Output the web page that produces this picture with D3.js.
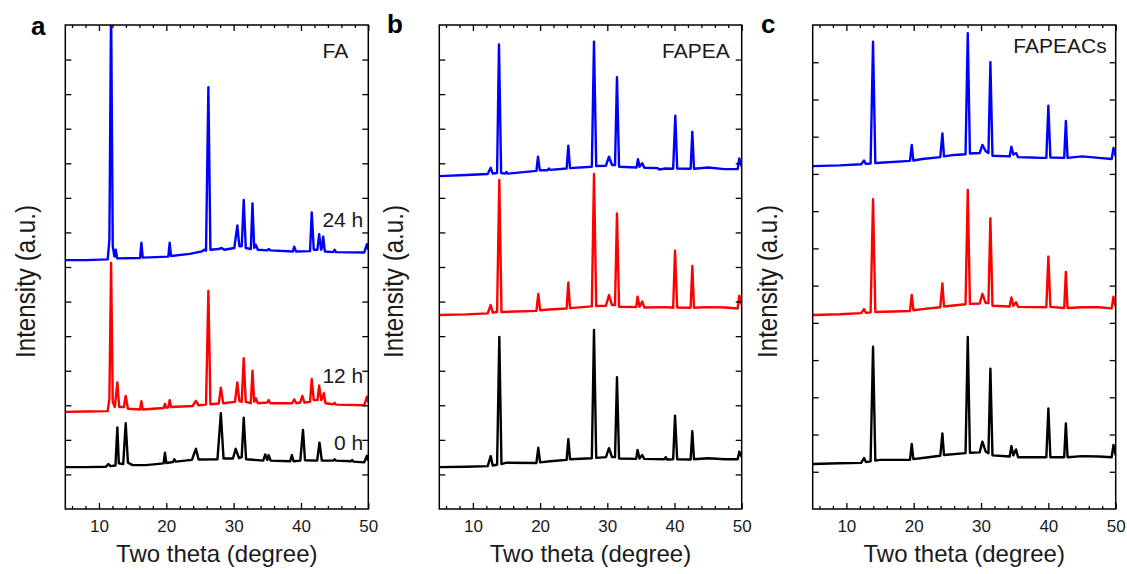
<!DOCTYPE html>
<html>
<head>
<meta charset="utf-8">
<script src="https://cdn.jsdelivr.net/npm/d3@7"></script>
<style>
  body { margin: 0; background: #fff; }
  svg { display: block; font-family: "Liberation Sans", Arial, sans-serif; }
</style>
</head>
<body>
<svg id="chart" width="1127" height="574"></svg>
<script>
// --- data (two theta in degrees, intensity in a.u.) ---
const majorTicks = [10, 20, 30, 40, 50];
const minorTicks = [6, 8, 12, 14, 16, 18, 22, 24, 26, 28, 32, 34, 36, 38, 42, 44, 46, 48];
const yTicksAB = [1, 2, 3, 4, 5, 6, 7, 8, 9, 10, 11, 12, 13];
const yTicksC = [1, 2, 3, 4, 5, 6, 7, 8, 9, 10, 11, 12];
const panelLetters = ["a", "b", "c"];
const panelNames = ["FA", "FAPEA", "FAPEACs"];
const timeLabels = ["0 h", "12 h", "24 h"];
const seriesColors = ["#000000", "#ff0000", "#0000ff"];

// panel a: FA
const fa0h = [[5,1.21],[8,1.21],[11,1.22],[11.4,1.3],[11.7,1.24],[12.45,1.26],[12.73,2.36],[12.95,1.32],[13.6,1.3],[13.97,2.48],[14.3,1.34],[15,1.27],[17,1.27],[19.6,1.32],[19.8,1.63],[20.0,1.33],[21,1.36],[21.2,1.44],[21.4,1.37],[23.8,1.42],[24.4,1.74],[24.8,1.43],[27.6,1.44],[28.1,2.77],[28.5,1.46],[29.9,1.46],[30.3,1.74],[30.8,1.47],[31.2,1.5],[31.5,2.64],[31.85,1.44],[34.4,1.4],[34.7,1.58],[35.0,1.42],[35.2,1.56],[35.5,1.4],[38.4,1.38],[38.65,1.56],[38.9,1.38],[39.9,1.4],[40.3,2.29],[40.6,1.41],[42.4,1.4],[42.75,1.92],[43.1,1.4],[44.8,1.4],[45,1.44],[45.2,1.4],[47.4,1.38],[47.6,1.42],[47.8,1.37],[49.4,1.35],[49.8,1.54],[50,1.4]];
const fa12h = [[5,2.81],[8,2.82],[11.3,2.83],[11.55,3.2],[11.8,7.12],[12.05,3.1],[12.35,2.95],[12.73,3.66],[13.0,2.95],[13.7,2.95],[13.97,3.27],[14.3,2.9],[16.1,2.88],[16.3,3.12],[16.5,2.88],[19.6,2.92],[19.8,3.04],[20.0,2.93],[20.3,2.94],[20.5,3.15],[20.7,2.95],[23.9,2.98],[24.4,3.13],[24.8,3.0],[25.9,3.02],[26.25,6.31],[26.55,3.03],[27.8,3.05],[28.1,3.51],[28.45,3.06],[30.2,3.1],[30.55,3.66],[30.85,3.12],[31.2,3.1],[31.5,4.36],[31.8,3.1],[32.55,3.06],[32.8,4.0],[33.05,3.1],[33.3,3.2],[33.6,3.06],[35.0,3.08],[35.2,3.15],[35.45,3.06],[38.7,3.06],[39,3.17],[39.3,3.06],[39.9,3.08],[40.2,3.27],[40.5,3.08],[41.35,3.1],[41.6,3.76],[41.9,3.15],[42.45,3.15],[42.7,3.57],[43.0,3.15],[43.15,3.2],[43.4,3.35],[43.65,3.06],[44.8,3.03],[45,3.07],[45.2,3.02],[49.4,3.0],[49.8,3.25],[50,3.1]];
const fa24h = [[5,7.2],[8,7.2],[11.3,7.22],[11.55,7.8],[11.8,14.6],[12.05,7.6],[12.3,7.3],[12.5,7.5],[12.7,7.25],[16.1,7.26],[16.3,7.7],[16.5,7.27],[20.3,7.3],[20.5,7.7],[20.7,7.32],[23.5,7.38],[25.3,7.45],[25.6,7.5],[25.9,7.47],[26.25,12.2],[26.55,7.5],[27.8,7.52],[28.2,7.55],[28.6,7.5],[30.1,7.55],[30.55,8.2],[30.85,7.6],[31.2,7.6],[31.5,8.94],[31.8,7.55],[32.55,7.52],[32.8,8.84],[33.05,7.55],[33.3,7.64],[33.6,7.5],[35.0,7.48],[35.2,7.52],[35.5,7.48],[38.8,7.45],[39,7.59],[39.25,7.45],[41.35,7.46],[41.6,8.58],[41.9,7.5],[42.45,7.5],[42.7,7.95],[43.0,7.5],[43.1,7.55],[43.3,7.88],[43.55,7.45],[44.8,7.43],[45,7.5],[45.2,7.43],[49.4,7.42],[49.8,7.66],[50,7.5]];

// panel b: FAPEA
const fapea0h = [[5,1.21],[9,1.22],[12.2,1.24],[12.65,1.53],[12.95,1.26],[13.6,1.28],[13.93,4.98],[14.25,1.3],[15,1.34],[19.45,1.33],[19.73,1.77],[20.0,1.35],[21.5,1.38],[23.95,1.42],[24.2,2.02],[24.45,1.44],[27.7,1.47],[28.02,5.18],[28.35,1.48],[29.8,1.5],[30.25,1.76],[30.7,1.5],[31.15,1.5],[31.44,3.81],[31.75,1.46],[34.3,1.45],[34.5,1.71],[34.8,1.46],[35.2,1.56],[35.5,1.45],[38.5,1.44],[38.7,1.5],[38.9,1.43],[39.8,1.44],[40.08,2.7],[40.4,1.44],[42.4,1.43],[42.65,2.25],[42.9,1.44],[45,1.47],[47.5,1.44],[49.4,1.44],[49.64,1.66],[50,1.5]];
const fapea12h = [[5,5.61],[9,5.63],[12.2,5.66],[12.65,5.9],[12.95,5.68],[13.6,5.7],[13.93,9.52],[14.25,5.7],[19.45,5.73],[19.73,6.22],[20.0,5.75],[21.3,5.77],[23.95,5.8],[24.2,6.55],[24.45,5.81],[27.7,5.86],[28.02,9.69],[28.35,5.87],[29.8,5.88],[30.25,6.19],[30.7,5.9],[31.15,5.9],[31.44,8.55],[31.75,5.85],[34.3,5.84],[34.5,6.14],[34.8,5.85],[35.2,6.0],[35.5,5.83],[38.7,5.84],[39.8,5.82],[40.08,7.47],[40.4,5.83],[42.4,5.82],[42.65,7.03],[42.9,5.82],[45,5.84],[47.5,5.83],[49.4,5.8],[49.64,6.17],[50,5.9]];
const fapea24h = [[5,9.63],[9,9.66],[12.2,9.69],[12.65,9.87],[12.95,9.7],[13.6,9.72],[13.88,13.44],[14.2,9.72],[14.8,9.7],[15,9.75],[15.2,9.7],[19.45,9.78],[19.69,10.19],[19.95,9.8],[21.1,9.8],[21.3,9.85],[21.5,9.81],[23.95,9.85],[24.2,10.51],[24.45,9.86],[27.7,9.9],[28.02,13.52],[28.35,9.92],[29.8,9.93],[30.25,10.19],[30.7,9.95],[31.15,9.95],[31.44,12.49],[31.75,9.9],[34.35,9.88],[34.57,10.12],[34.8,9.9],[35.2,10.0],[35.5,9.87],[37.5,9.86],[37.7,9.82],[38.7,9.85],[39.8,9.84],[40.12,11.38],[40.4,9.85],[42.4,9.84],[42.65,10.91],[42.9,9.84],[45.03,9.88],[47.4,9.83],[49.4,9.83],[49.64,10.14],[50,9.9]];

// panel c: FAPEACs
const fapeacs0h = [[5,1.21],[9,1.23],[12.2,1.24],[12.62,1.37],[12.9,1.26],[13.6,1.28],[13.96,4.36],[14.3,1.30],[15,1.32],[19.45,1.32],[19.71,1.75],[19.95,1.34],[21.3,1.37],[23.95,1.43],[24.26,2.03],[24.5,1.45],[27.7,1.50],[28.03,4.62],[28.35,1.51],[29.8,1.52],[30.2,1.81],[30.7,1.54],[31.1,1.50],[31.39,3.77],[31.7,1.44],[34.25,1.41],[34.51,1.69],[34.8,1.44],[35.2,1.60],[35.5,1.39],[39.7,1.39],[40.0,2.70],[40.3,1.39],[42.35,1.39],[42.6,2.30],[42.85,1.39],[45,1.42],[47.5,1.41],[49.4,1.39],[49.67,1.72],[50,1.44]];
const fapeacs12h = [[5,5.21],[9,5.23],[12.2,5.26],[12.62,5.37],[12.9,5.27],[13.6,5.28],[13.96,8.32],[14.3,5.29],[19.45,5.32],[19.71,5.75],[19.95,5.34],[21.3,5.37],[23.95,5.42],[24.26,6.06],[24.5,5.44],[27.7,5.50],[28.03,8.57],[28.35,5.51],[29.8,5.52],[30.2,5.78],[30.7,5.53],[31.1,5.53],[31.39,7.81],[31.7,5.46],[34.25,5.44],[34.51,5.68],[34.8,5.46],[35.2,5.55],[35.5,5.43],[39.7,5.42],[40.0,6.78],[40.3,5.43],[42.35,5.40],[42.6,6.37],[42.85,5.40],[45,5.42],[47.5,5.42],[49.4,5.39],[49.67,5.70],[50,5.43]];
const fapeacs24h = [[5,9.21],[9,9.23],[12.2,9.26],[12.62,9.36],[12.9,9.27],[13.6,9.28],[13.96,12.55],[14.3,9.29],[15,9.30],[19.45,9.35],[19.71,9.78],[19.95,9.36],[21.3,9.40],[23.95,9.45],[24.26,10.09],[24.5,9.47],[26,9.51],[27.7,9.53],[28.03,12.78],[28.35,9.55],[29.8,9.56],[30.2,9.78],[30.7,9.61],[31.1,9.56],[31.39,12.0],[31.7,9.49],[34.25,9.47],[34.51,9.73],[34.8,9.52],[35.2,9.56],[35.5,9.45],[37.5,9.44],[38.8,9.43],[39.7,9.43],[40.0,10.83],[40.3,9.44],[42.35,9.43],[42.6,10.42],[42.85,9.43],[45,9.47],[47.5,9.43],[49.4,9.40],[49.67,9.70],[50,9.47]];

// --- layout ---
const plotTop = 25, plotBottom = 509;
const panels = [
  { left: 65.3, right: 368.3, yMax: 14, yTicks: yTicksAB, series: [fa0h, fa12h, fa24h], titleX: 30.5, nameX: 20, nameY: 58 },
  { left: 439.3, right: 741.7, yMax: 14, yTicks: yTicksAB, series: [fapea0h, fapea12h, fapea24h], titleX: 36, nameX: 12, nameY: 58 },
  { left: 812.7, right: 1115.7, yMax: 13, yTicks: yTicksC, series: [fapeacs0h, fapeacs12h, fapeacs24h], titleX: 36, nameX: 9, nameY: 53 }
];
const letterPos = [[31, 35], [387, 33], [761, 33]];
const timeLabelY = [450, 382.7, 226.7];

const svg = d3.select("#chart");
const defs = svg.append("defs");

panels.forEach((p, i) => {
  const x = d3.scaleLinear().domain([5, 50]).range([p.left, p.right]);
  const y = d3.scaleLinear().domain([0, p.yMax]).range([plotBottom, plotTop]);
  const g = svg.append("g");

  defs.append("clipPath").attr("id", "clip" + i)
    .append("rect")
    .attr("x", p.left).attr("y", plotTop)
    .attr("width", p.right - p.left).attr("height", plotBottom - plotTop);

  // curves
  const line = d3.line().x(d => x(d[0])).y(d => y(d[1]));
  g.append("g").attr("clip-path", `url(#clip${i})`)
    .selectAll("path")
    .data(p.series)
    .join("path")
    .attr("d", line)
    .attr("fill", "none")
    .attr("stroke", (d, k) => seriesColors[k])
    .attr("stroke-width", 2.4)
    .attr("stroke-linejoin", "round");

  // axes, ticks pointing inwards
  const bottomAxis = g.append("g").attr("transform", `translate(0,${plotBottom})`)
    .call(d3.axisBottom(x).tickValues(majorTicks).tickSize(-6).tickSizeOuter(0).tickPadding(10.5));
  g.append("g").attr("transform", `translate(0,${plotBottom})`)
    .call(d3.axisBottom(x).tickValues(minorTicks).tickSize(-3).tickSizeOuter(0).tickFormat(""));
  g.append("g").attr("transform", `translate(0,${plotTop})`)
    .call(d3.axisTop(x).tickValues(majorTicks).tickSize(-6).tickSizeOuter(0).tickFormat(""));
  g.append("g").attr("transform", `translate(0,${plotTop})`)
    .call(d3.axisTop(x).tickValues(minorTicks).tickSize(-3).tickSizeOuter(0).tickFormat(""));
  g.append("g").attr("transform", `translate(${p.left},0)`)
    .call(d3.axisLeft(y).tickValues(p.yTicks).tickSize(-6).tickSizeOuter(0).tickFormat(""));
  g.append("g").attr("transform", `translate(${p.right},0)`)
    .call(d3.axisRight(y).tickValues(p.yTicks).tickSize(-6).tickSizeOuter(0).tickFormat(""));

  g.selectAll(".domain").remove();
  g.selectAll(".tick line").attr("stroke", "#000").attr("stroke-width", 1.3);
  bottomAxis.selectAll("text")
    .attr("font-size", 17).attr("fill", "#1a1a1a")
    .attr("font-family", "'Liberation Sans', Arial, sans-serif");

  // frame
  g.append("rect")
    .attr("x", p.left).attr("y", plotTop)
    .attr("width", p.right - p.left).attr("height", plotBottom - plotTop)
    .attr("fill", "none").attr("stroke", "#000").attr("stroke-width", 1.5);

  // titles
  g.append("text")
    .attr("x", (p.left + p.right) / 2).attr("y", 561.5)
    .attr("text-anchor", "middle").attr("font-size", 24).attr("fill", "#1a1a1a")
    .text("Two theta (degree)");
  g.append("text")
    .attr("transform", `translate(${p.left - p.titleX},281.5) rotate(-90)`)
    .attr("text-anchor", "middle").attr("font-size", 27).attr("fill", "#1a1a1a")
    .attr("textLength", 153).attr("lengthAdjust", "spacingAndGlyphs")
    .text("Intensity (a.u.)");

  g.append("text")
    .attr("x", p.right - p.nameX).attr("y", p.nameY)
    .attr("text-anchor", "end").attr("font-size", 21).attr("fill", "#1a1a1a")
    .text(panelNames[i]);

  g.append("text")
    .attr("x", letterPos[i][0]).attr("y", letterPos[i][1])
    .attr("font-size", 26).attr("font-weight", "bold").attr("fill", "#000")
    .text(panelLetters[i]);
});

// time labels, only in panel a
svg.append("g").selectAll("text")
  .data(timeLabels)
  .join("text")
  .attr("x", panels[0].right - 5)
  .attr("y", (d, k) => timeLabelY[k])
  .attr("text-anchor", "end").attr("font-size", 21).attr("fill", "#1a1a1a")
  .text(d => d);
</script>
</body>
</html>
